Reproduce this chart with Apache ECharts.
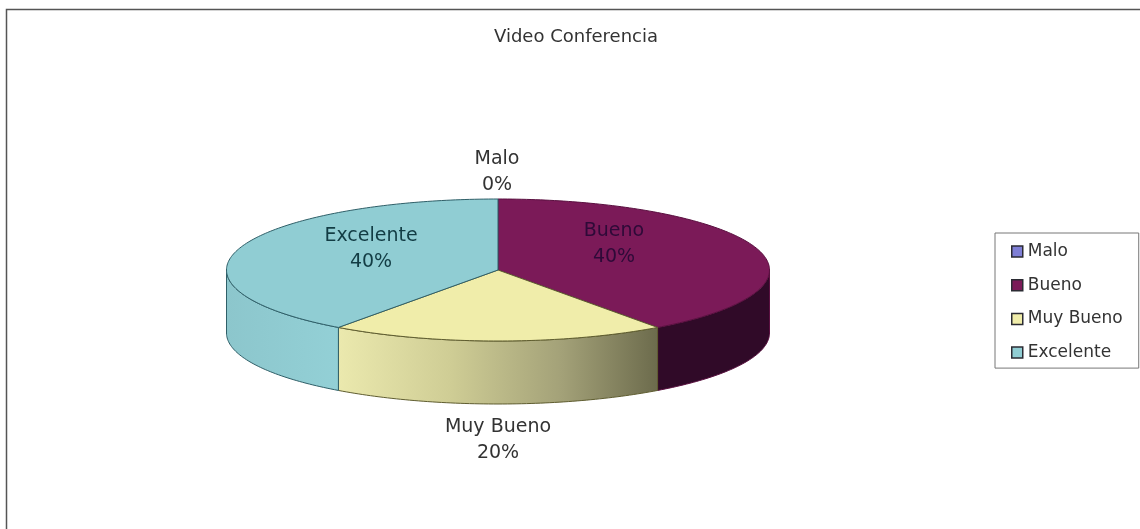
<!DOCTYPE html>
<html>
<head>
<meta charset="utf-8">
<style>html,body{margin:0;padding:0;background:#fff}#chart{width:1140px;height:529px}</style>
<script src="https://cdn.jsdelivr.net/npm/echarts@6/dist/echarts.min.js"></script>
</head>
<body>
<div id="chart"></div>
<script>
// Survey shares for the video conference rating
const categories = ['Malo', 'Bueno', 'Muy Bueno', 'Excelente'];
const shares = [0, 40, 20, 40];

// Disc geometry: flattened circle with a visible front wall
const disc = { cx: 498, cy: 270, rx: 271.5, ry: 71, depth: 63 };
const FONT = '"DejaVu Sans", Verdana, sans-serif';

const topColors = ['#7f7fd6', '#7b1a58', '#f0edaa', '#90cdd3'];
const strokeColors = ['#33336a', '#5a1040', '#5f5d30', '#2f5f68'];
const wallColors = [
  '#55558c',
  '#300a28',
  { type: 'linear', x: 0, y: 0, x2: 1, y2: 0, colorStops: [
    { offset: 0, color: '#ebe9ae' },
    { offset: 0.35, color: '#cfcd95' },
    { offset: 0.7, color: '#a3a178' },
    { offset: 1, color: '#6c6b4c' }
  ] },
  { type: 'linear', x: 0, y: 0, x2: 1, y2: 0, colorStops: [
    { offset: 0, color: '#8cc6cc' },
    { offset: 1, color: '#93d0d6' }
  ] }
];
const labelColors = ['#333333', '#2e0a38', '#333333', '#123c44'];
// Label centres in pixels; the text itself comes from the data
const labelAnchors = [[497, 172], [614, 244], [498, 440], [371, 249]];

const total = shares.reduce((a, b) => a + b, 0);
const startAngles = shares.map((_, i) =>
  shares.slice(0, i).reduce((a, b) => a + b, 0) / total * 360);

function rim(deg, drop) {
  const t = deg * Math.PI / 180;
  return [disc.cx + disc.rx * Math.sin(t), disc.cy - disc.ry * Math.cos(t) + drop];
}

function arc(from, to, drop) {
  const pts = [];
  const n = Math.max(1, Math.ceil(Math.abs(to - from)));
  for (let k = 0; k <= n; k++) pts.push(rim(from + (to - from) * k / n, drop));
  return pts;
}

function renderSlice(i) {
  const share = shares[i];
  const a = startAngles[i];
  const b = a + share / total * 360;
  const children = [];
  const line = { stroke: strokeColors[i], lineWidth: 1 };
  if (share > 0) {
    // The front half of the disc shows a wall below its rim
    const wa = Math.max(a, 90);
    const wb = Math.min(b, 270);
    if (wb > wa) {
      children.push({
        type: 'polygon',
        shape: { points: arc(wa, wb, 0).concat(arc(wb, wa, disc.depth)) },
        style: Object.assign({ fill: wallColors[i] }, line)
      });
    }
    children.push({
      type: 'polygon',
      shape: { points: [[disc.cx, disc.cy]].concat(arc(a, b, 0)) },
      style: Object.assign({ fill: topColors[i] }, line)
    });
  }
  children.push({
    type: 'text',
    z2: 10,
    style: {
      x: labelAnchors[i][0],
      y: labelAnchors[i][1],
      text: categories[i] + '\n' + Math.round(share / total * 100) + '%',
      fill: labelColors[i],
      font: '19px ' + FONT,
      lineHeight: 26,
      align: 'center',
      verticalAlign: 'middle'
    }
  });
  return { type: 'group', children };
}

const chart = echarts.init(document.getElementById('chart'), null, { renderer: 'canvas' });
chart.setOption({
  animation: false,
  backgroundColor: '#ffffff',
  title: {
    text: 'Video Conferencia',
    left: 571,
    top: 23,
    textAlign: 'center',
    textStyle: { fontFamily: FONT, fontSize: 18, fontWeight: 'normal', color: '#333333' }
  },
  legend: {
    orient: 'vertical',
    left: 995,
    top: 233,
    padding: [10, 16, 7, 16],
    itemWidth: 11,
    itemHeight: 11,
    itemGap: 16.7,
    icon: 'rect',
    selectedMode: false,
    borderColor: '#777777',
    borderWidth: 1,
    backgroundColor: '#ffffff',
    data: categories,
    itemStyle: { borderColor: '#2b2b33', borderWidth: 1.5 },
    textStyle: { fontFamily: FONT, fontSize: 17, color: '#333333', lineHeight: 16 }
  },
  graphic: [{
    // Chart area frame: only its top and left edges fall inside the page
    type: 'rect',
    shape: { x: 6.5, y: 9.5, width: 1300, height: 700 },
    style: { fill: 'transparent', stroke: '#555555', lineWidth: 1.5 },
    silent: true,
    z: -1
  }],
  series: categories.map((name, i) => ({
    type: 'custom',
    name,
    coordinateSystem: 'none',
    itemStyle: { color: topColors[i] },
    data: [shares[i]],
    renderItem: () => renderSlice(i)
  }))
});
</script>
</body>
</html>
